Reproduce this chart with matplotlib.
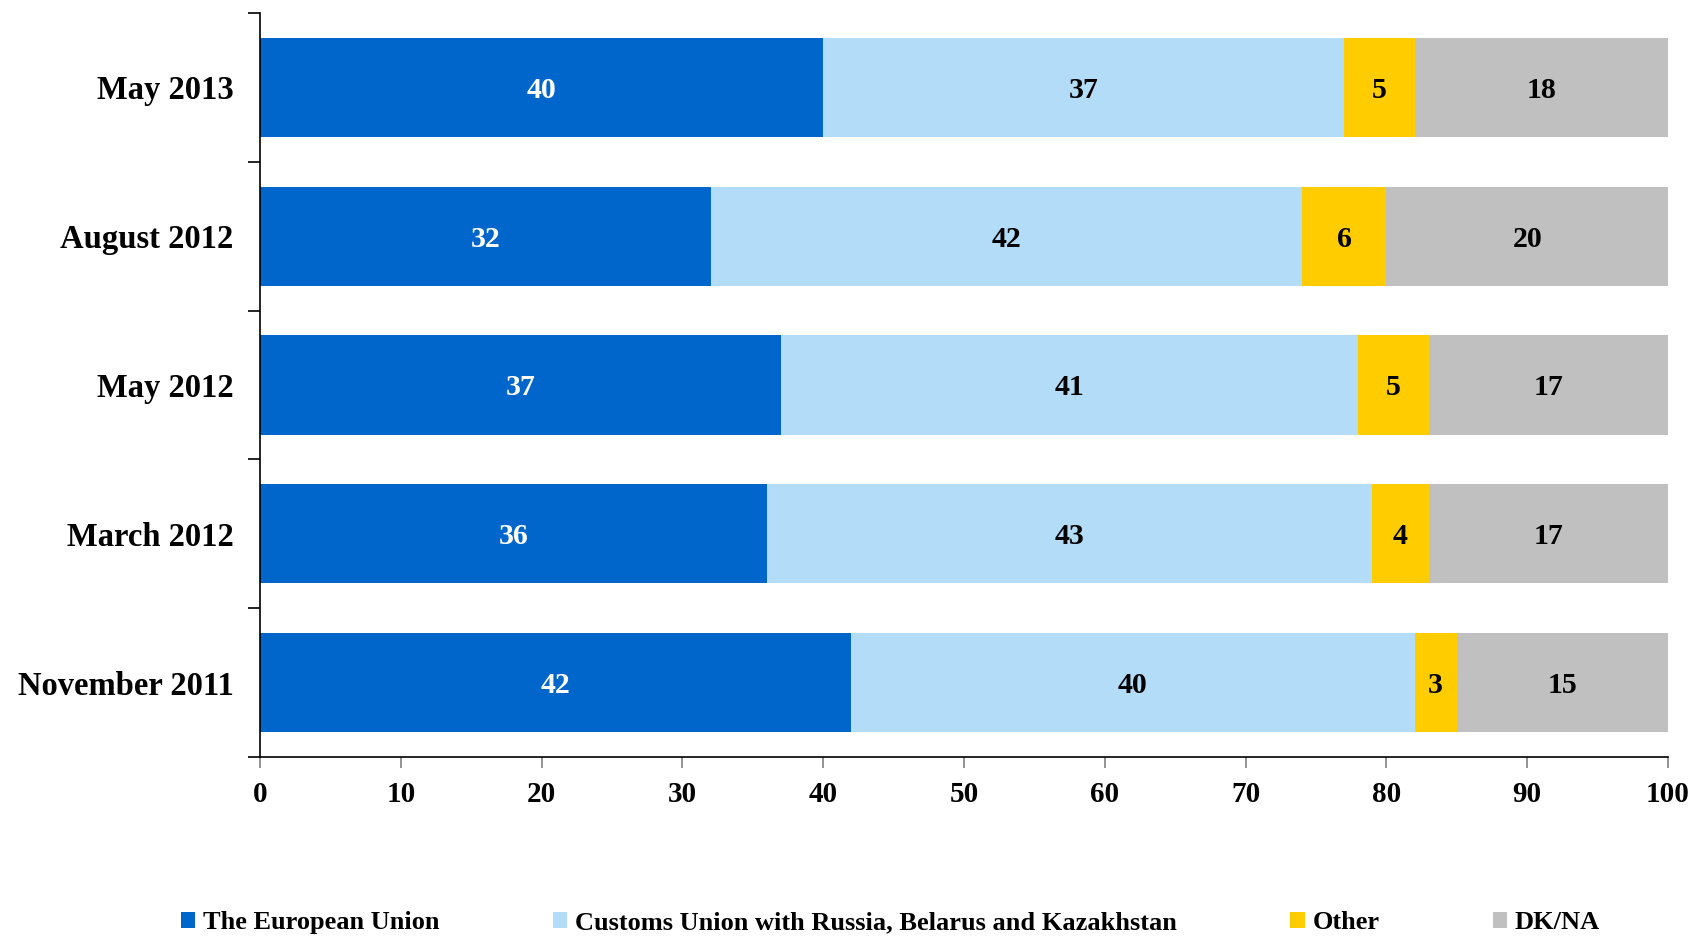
import matplotlib.pyplot as plt
from matplotlib.patches import Patch

# survey waves, bottom to top
waves = ["November 2011", "March 2012", "May 2012", "August 2012", "May 2013"]
eu = [42, 36, 37, 32, 40]
customs = [40, 43, 41, 42, 37]
other = [3, 4, 5, 6, 5]
dkna = [15, 17, 17, 20, 18]

series_names = ["The European Union",
                "Customs Union with Russia, Belarus and Kazakhstan",
                "Other", "DK/NA"]
colors = ["#0066CC", "#B3DCF9", "#FFCC00", "#C0C0C0"]
label_colors = ["white", "black", "black", "black"]

plt.rcParams["font.family"] = ["Liberation Serif", "DejaVu Serif"]
plt.rcParams["font.weight"] = "bold"

fig = plt.figure(figsize=(16.92, 9.36), dpi=100)
ax = fig.add_axes([0.1537, 0.1912, 0.8321, 0.7949])

ypos = list(range(len(waves)))
left = [0] * len(waves)
for vals, col, lc in zip([eu, customs, other, dkna], colors, label_colors):
    bars = ax.barh(ypos, vals, left=left, height=0.667, color=col, edgecolor="none")
    for b, v in zip(bars, vals):
        ax.text(b.get_x() + b.get_width() / 2, b.get_y() + b.get_height() / 2 - 0.02,
                str(v), ha="center", va="center", color=lc,
                fontsize=21.5, fontweight="bold")
    left = [l + v for l, v in zip(left, vals)]

ax.set_xlim(0, 100)
ax.set_ylim(-0.5, len(waves) - 0.5)
ax.set_xticks(range(0, 101, 10))
ax.tick_params(axis="x", direction="out", length=8, width=1.2, pad=9,
               labelsize=21, color="#808080")
ax.set_yticks(ypos)
ax.set_yticklabels(waves, fontsize=23.5, fontweight="bold")
ax.set_yticks([p - 0.5 for p in range(len(waves) + 1)], minor=True)
ax.tick_params(axis="y", which="major", length=0, pad=19)
ax.tick_params(axis="y", which="minor", direction="out", length=9, width=1.2)
for lab in ax.get_xticklabels():
    lab.set_fontweight("bold")

ax.spines["top"].set_visible(False)
ax.spines["right"].set_visible(False)
ax.spines["left"].set_linewidth(1.2)
ax.spines["bottom"].set_linewidth(1.2)

handles = [Patch(facecolor=c, edgecolor="none") for c in colors]
fig.legend(handles, series_names, loc="center left",
           bbox_to_anchor=(0.1007, 0.014), ncol=4, frameon=False,
           prop={"size": 19, "weight": "bold"},
           handlelength=0.55, handleheight=0.55, handletextpad=0.3,
           columnspacing=4.28, borderaxespad=0)

fig.savefig("out.png", dpi=100)
